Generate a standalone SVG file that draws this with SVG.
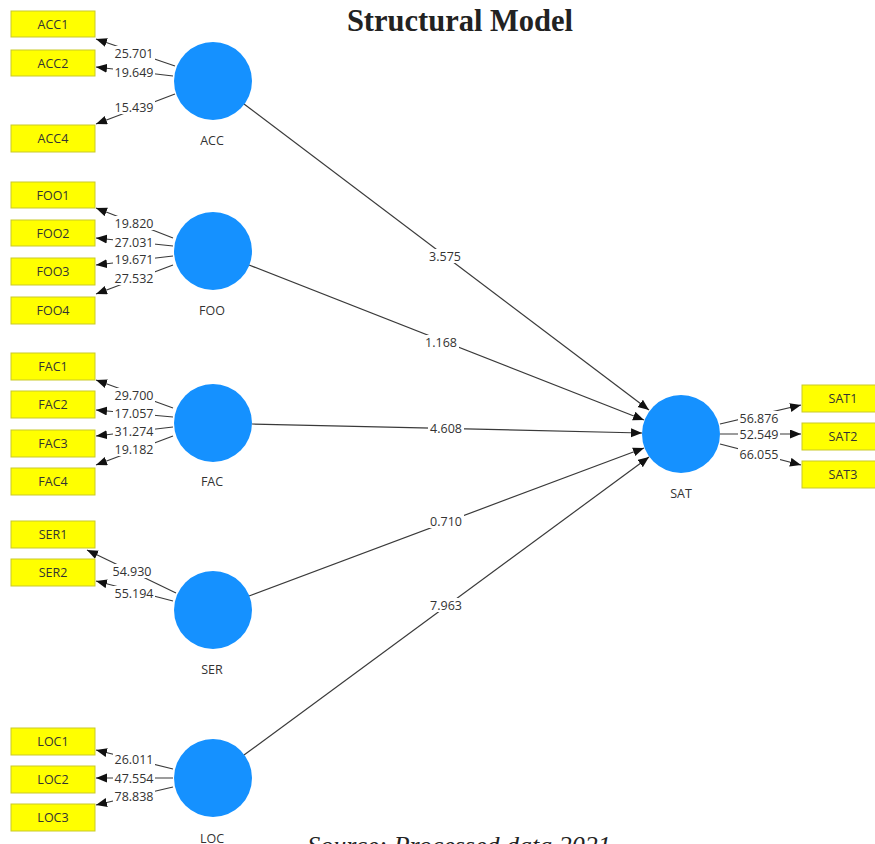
<svg xmlns="http://www.w3.org/2000/svg" width="875" height="844" viewBox="0 0 875 844">
<style>
.bg{fill:#ffffff}
.ind rect{fill:#ffff00;stroke:#c9c92a;stroke-width:1}
.ind text,.lv text{font-family:"Open Sans","Noto Sans",sans-serif;font-size:12.5px;fill:#333;text-anchor:middle}
.lv circle{fill:#1591ff}
.ln line{stroke:#3a3a3a;stroke-width:1.2;fill:none}
.lb rect{fill:#ffffff}
.lb text{font-family:"Open Sans","Noto Sans",sans-serif;font-size:12.5px;fill:#333;text-anchor:middle}
.title{font-family:"Liberation Serif",serif;font-weight:bold;font-size:30.5px;fill:#222;text-anchor:middle}
.src{font-family:"Liberation Serif",serif;font-style:italic;font-size:26px;fill:#222;text-anchor:middle}
</style>
<defs>
<marker id="ah" markerUnits="userSpaceOnUse" markerWidth="12" markerHeight="10" refX="11" refY="4.5" orient="auto">
<path d="M0,0 L11,4.5 L0,9 z" fill="#111"/>
</marker>
</defs>
<rect class="bg" x="0" y="0" width="875" height="844"/>
<text class="title" x="460" y="31">Structural Model</text>

<g id="connectors">
<g class="ln" marker-end="url(#ah)">
<line x1="175" y1="66" x2="96" y2="39"/>
<line x1="173" y1="76" x2="96" y2="67"/>
<line x1="175" y1="94" x2="96" y2="124"/>
<line x1="173" y1="238" x2="96" y2="208"/>
<line x1="173" y1="246" x2="96" y2="238"/>
<line x1="173" y1="256" x2="96" y2="265"/>
<line x1="173" y1="265" x2="96" y2="294"/>
<line x1="173" y1="408" x2="96" y2="380"/>
<line x1="173" y1="417" x2="96" y2="410"/>
<line x1="173" y1="427" x2="96" y2="436"/>
<line x1="173" y1="436" x2="96" y2="465"/>
<line x1="176" y1="593" x2="87" y2="550"/>
<line x1="173" y1="601" x2="96" y2="581"/>
<line x1="173" y1="769" x2="96" y2="750"/>
<line x1="173" y1="778" x2="96" y2="778"/>
<line x1="173" y1="787" x2="96" y2="805"/>
<line x1="720" y1="424" x2="801" y2="405"/>
<line x1="720" y1="434" x2="801" y2="434"/>
<line x1="720" y1="444" x2="801" y2="465"/>
<line x1="244" y1="104" x2="649" y2="410"/>
<line x1="249" y1="265" x2="644" y2="420"/>
<line x1="252" y1="424" x2="642" y2="433"/>
<line x1="249" y1="596" x2="644" y2="448"/>
<line x1="244" y1="755" x2="649" y2="457"/>
</g>
<g class="lb">
<rect x="113" y="46" width="42" height="14"/><text x="134" y="57.5">25.701</text>
<rect x="113" y="65" width="42" height="14"/><text x="134" y="76.5">19.649</text>
<rect x="113" y="100" width="42" height="14"/><text x="134" y="111.5">15.439</text>
<rect x="113" y="216" width="42" height="14"/><text x="134" y="227.5">19.820</text>
<rect x="113" y="235" width="42" height="14"/><text x="134" y="246.5">27.031</text>
<rect x="113" y="252" width="42" height="14"/><text x="134" y="263.5">19.671</text>
<rect x="113" y="271" width="42" height="14"/><text x="134" y="282.5">27.532</text>
<rect x="113" y="388" width="42" height="14"/><text x="134" y="399.5">29.700</text>
<rect x="113" y="406" width="42" height="14"/><text x="134" y="417.5">17.057</text>
<rect x="113" y="424" width="42" height="14"/><text x="134" y="435.5">31.274</text>
<rect x="113" y="442" width="42" height="14"/><text x="134" y="453.5">19.182</text>
<rect x="111" y="564" width="42" height="14"/><text x="132" y="575.5">54.930</text>
<rect x="113" y="586" width="42" height="14"/><text x="134" y="597.5">55.194</text>
<rect x="113" y="752" width="42" height="14"/><text x="134" y="763.5">26.011</text>
<rect x="113" y="771" width="42" height="14"/><text x="134" y="782.5">47.554</text>
<rect x="113" y="789" width="42" height="14"/><text x="134" y="800.5">78.838</text>
<rect x="738" y="411" width="42" height="14"/><text x="759" y="422.5">56.876</text>
<rect x="738" y="427" width="42" height="14"/><text x="759" y="438.5">52.549</text>
<rect x="738" y="447" width="42" height="14"/><text x="759" y="458.5">66.055</text>
<rect x="427" y="249" width="36" height="14"/><text x="445" y="260.5">3.575</text>
<rect x="423" y="335" width="36" height="14"/><text x="441" y="346.5">1.168</text>
<rect x="428" y="421" width="36" height="14"/><text x="446" y="432.5">4.608</text>
<rect x="428" y="514" width="36" height="14"/><text x="446" y="525.5">0.710</text>
<rect x="428" y="598" width="36" height="14"/><text x="446" y="609.5">7.963</text>
</g>
</g>

<g id="ACC" class="lv"><circle cx="213" cy="81" r="39"/><text x="212" y="145">ACC</text></g>
<g id="FOO" class="lv"><circle cx="213" cy="251" r="39"/><text x="212" y="315">FOO</text></g>
<g id="FAC" class="lv"><circle cx="213" cy="423" r="39"/><text x="212" y="486">FAC</text></g>
<g id="SER" class="lv"><circle cx="213" cy="610" r="39"/><text x="212" y="674">SER</text></g>
<g id="LOC" class="lv"><circle cx="213" cy="778" r="39"/><text x="212" y="843">LOC</text></g>
<g id="SAT" class="lv"><circle cx="681" cy="434" r="39"/><text x="681" y="498">SAT</text></g>

<g id="ACC1" class="ind"><rect x="11" y="11" width="84" height="26"/><text x="53" y="28.5">ACC1</text></g>
<g id="ACC2" class="ind"><rect x="11" y="50" width="84" height="26"/><text x="53" y="67.5">ACC2</text></g>
<g id="ACC4" class="ind"><rect x="11" y="125" width="84" height="27"/><text x="53" y="143">ACC4</text></g>
<g id="FOO1" class="ind"><rect x="11" y="182" width="84" height="26"/><text x="53" y="199.5">FOO1</text></g>
<g id="FOO2" class="ind"><rect x="11" y="220" width="84" height="26"/><text x="53" y="237.5">FOO2</text></g>
<g id="FOO3" class="ind"><rect x="11" y="258" width="84" height="27"/><text x="53" y="276">FOO3</text></g>
<g id="FOO4" class="ind"><rect x="11" y="297" width="84" height="27"/><text x="53" y="315">FOO4</text></g>
<g id="FAC1" class="ind"><rect x="11" y="353" width="84" height="27"/><text x="53" y="371">FAC1</text></g>
<g id="FAC2" class="ind"><rect x="11" y="391" width="84" height="27"/><text x="53" y="409">FAC2</text></g>
<g id="FAC3" class="ind"><rect x="11" y="430" width="84" height="27"/><text x="53" y="448">FAC3</text></g>
<g id="FAC4" class="ind"><rect x="11" y="468" width="84" height="27"/><text x="53" y="486">FAC4</text></g>
<g id="SER1" class="ind"><rect x="11" y="521" width="84" height="27"/><text x="53" y="539">SER1</text></g>
<g id="SER2" class="ind"><rect x="11" y="559" width="84" height="27"/><text x="53" y="577">SER2</text></g>
<g id="LOC1" class="ind"><rect x="11" y="728" width="84" height="27"/><text x="53" y="746">LOC1</text></g>
<g id="LOC2" class="ind"><rect x="11" y="766" width="84" height="27"/><text x="53" y="784">LOC2</text></g>
<g id="LOC3" class="ind"><rect x="11" y="804" width="84" height="27"/><text x="53" y="822">LOC3</text></g>
<g id="SAT1" class="ind"><rect x="802" y="385" width="84" height="27"/><text x="843" y="403">SAT1</text></g>
<g id="SAT2" class="ind"><rect x="802" y="423" width="84" height="27"/><text x="843" y="441">SAT2</text></g>
<g id="SAT3" class="ind"><rect x="802" y="461" width="84" height="27"/><text x="843" y="479">SAT3</text></g>

<text class="src" x="459" y="854">Source: Processed data 2021</text>
</svg>
